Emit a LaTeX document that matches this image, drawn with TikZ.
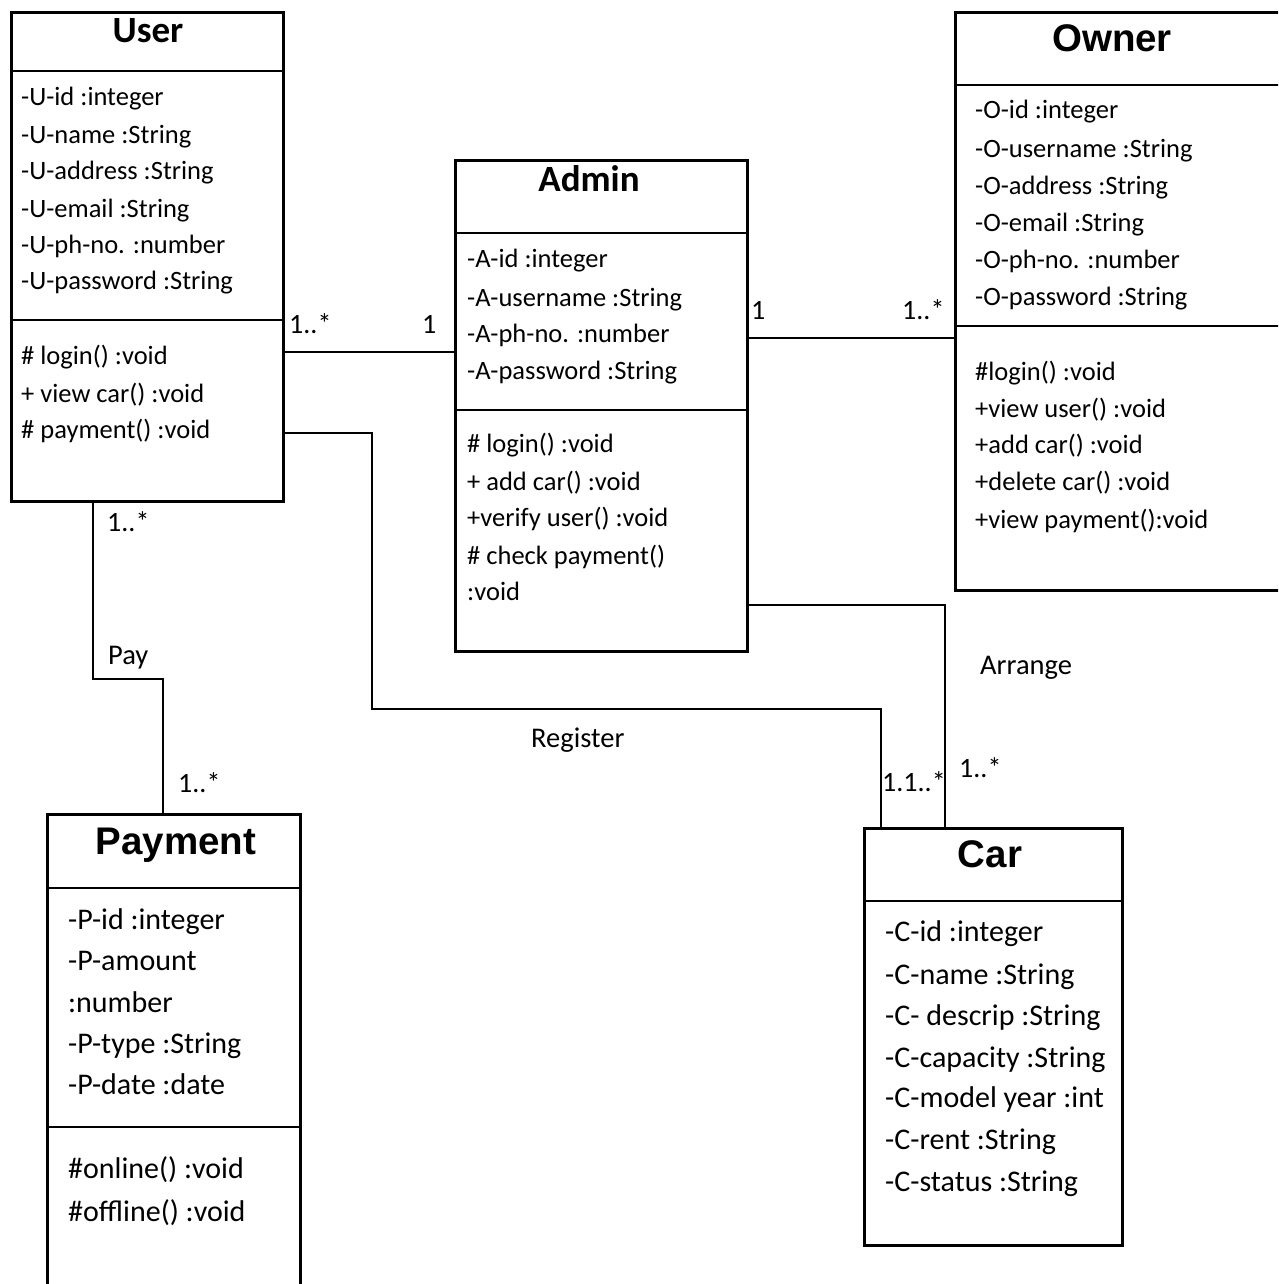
\documentclass[tikz,border=0pt]{standalone}
\usepackage{fontspec}
\setmainfont{Carlito}
\newfontfamily\arialfont{Liberation Sans}

\tikzset{
  classbox/.style={draw,line width=2.6pt,inner sep=0pt,anchor=north west},
  sepline/.style={line width=2pt},
  link/.style={line width=1.6pt},
  member/.style={anchor=base west,inner sep=0pt,font=\fontsize{26.5}{30}\selectfont},
  bigmember/.style={member,font=\fontsize{30}{34}\selectfont},
  ctitle/.style={anchor=base,inner sep=0pt,font=\fontsize{37}{40}\selectfont\bfseries},
  atitle/.style={anchor=base,inner sep=0pt,font=\fontsize{38.5}{42}\selectfont\arialfont\bfseries},
  mult/.style={member,font=\fontsize{28}{32}\selectfont},
  assoc/.style={member,font=\fontsize{28.5}{32}\selectfont}
}

\begin{document}
\begin{tikzpicture}[x=1pt,y=-1pt]
\clip (0,0) rectangle (1278,1284);
\fill[white] (0,0) rectangle (1278,1284);

\node[classbox,minimum width=272,minimum height=489] (user) at (10,11) {};
\node[classbox,minimum width=292,minimum height=491] (admin) at (454,159) {};
\node[classbox,minimum width=330,minimum height=578] (owner) at (954,11) {};
\node[classbox,minimum width=253,minimum height=480] (payment) at (46,813) {};
\node[classbox,minimum width=258,minimum height=417] (car) at (863,827) {};

\draw[sepline] (user.west |- 0,71) -- (user.east |- 0,71);
\draw[sepline] (user.west |- 0,320) -- (user.east |- 0,320);
\draw[sepline] (admin.west |- 0,233) -- (admin.east |- 0,233);
\draw[sepline] (admin.west |- 0,410) -- (admin.east |- 0,410);
\draw[sepline] (owner.west |- 0,326) -- (owner.east |- 0,326);
\draw[sepline] (owner.west |- 0,85) -- (owner.east |- 0,85);
\draw[sepline] (payment.west |- 0,888) -- (payment.east |- 0,888);
\draw[sepline] (payment.west |- 0,1127) -- (payment.east |- 0,1127);
\draw[sepline] (car.west |- 0,901) -- (car.east |- 0,901);

\node[ctitle] (user-t) at (148,43) {User};
\node[ctitle] (admin-t) at (589,192) {Admin};
\node[atitle] (owner-t) at (1112,52) {Owner};
\node[atitle] (payment-t) at (176,854) {Payment};
\node[atitle] (car-t) at (990,867) {Car};

\foreach \y/\t [count=\i] in {106/-U-id :integer,144/-U-name :String,180/-U-address :String,
    218/-U-email :String,253/-U-ph-no. :number,289/-U-password :String}
  \node[member] (user-a\i) at (21,\y) {\t};
\foreach \y/\t [count=\i] in {364/\# login() :void,402/+ view car() :void,438/\# payment() :void}
  \node[member] (user-m\i) at (21,\y) {\t};

\foreach \y/\t [count=\i] in {267/-A-id :integer,306/-A-username :String,342/-A-ph-no. :number,
    379/-A-password :String}
  \node[member] (admin-a\i) at (467,\y) {\t};
\foreach \y/\t [count=\i] in {452/\# login() :void,490/+ add car() :void,526/+verify user() :void,
    564/\# check payment(),600/:void}
  \node[member] (admin-m\i) at (467,\y) {\t};

\foreach \y/\t [count=\i] in {119/-O-id :integer,158/-O-username :String,194/-O-address :String,
    231/-O-email :String,268/-O-ph-no. :number,305/-O-password :String}
  \node[member] (owner-a\i) at (975,\y) {\t};
\foreach \y/\t [count=\i] in {380/\#login() :void,417/+view user() :void,453/+add car() :void,
    490/+delete car() :void,528/+view payment():void}
  \node[member] (owner-m\i) at (975,\y) {\t};

\foreach \y/\t [count=\i] in {929/-P-id :integer,970/-P-amount,1012/:number,1053/-P-type :String,
    1094/-P-date :date}
  \node[bigmember] (payment-a\i) at (68,\y) {\t};
\foreach \y/\t [count=\i] in {1178/\#online() :void,1221/\#offline() :void}
  \node[bigmember] (payment-m\i) at (68,\y) {\t};

\foreach \y/\t [count=\i] in {941/-C-id :integer,984/-C-name :String,1025/-C- descrip :String,
    1067/-C-capacity :String,1107/-C-model year :int,1149/-C-rent :String,1191/-C-status :String}
  \node[bigmember] (car-a\i) at (885,\y) {\t};

\coordinate (pay1) at (93,679);
\coordinate (pay2) at (163,679);
\coordinate (reg1) at (372,433);
\coordinate (reg2) at (881,709);
\coordinate (arr) at (945,605);

\draw[link] (user.east |- 0,352) -- (admin.west |- 0,352);
\draw[link] (admin.east |- 0,338) -- (owner.west |- 0,338);
\draw[link] (user.south -| pay1) -- (pay1) -- (pay2) -- (payment.north -| pay2);
\draw[link] (user.east |- reg1) -- (reg1) |- (reg2) -- (car.north -| reg2);
\draw[link] (admin.east |- arr) -- (arr) -- (car.north -| arr);

\node[mult] (m1) at (289,333) {1..*};
\node[mult] (m2) at (422,333) {1};
\node[mult] (m3) at (751,319) {1};
\node[mult] (m4) at (902,319) {1..*};
\node[mult] (m5) at (107,531) {1..*};
\node[mult] (m6) at (178,792) {1..*};
\node[mult] (m7) at (882,791) {1.1..*};
\node[mult] (m8) at (959,777) {1..*};
\node[assoc] (pay-l) at (108,664) {Pay};
\node[assoc] (reg-l) at (531,747) {Register};
\node[assoc] (arr-l) at (980,674) {Arrange};
\end{tikzpicture}
\end{document}
